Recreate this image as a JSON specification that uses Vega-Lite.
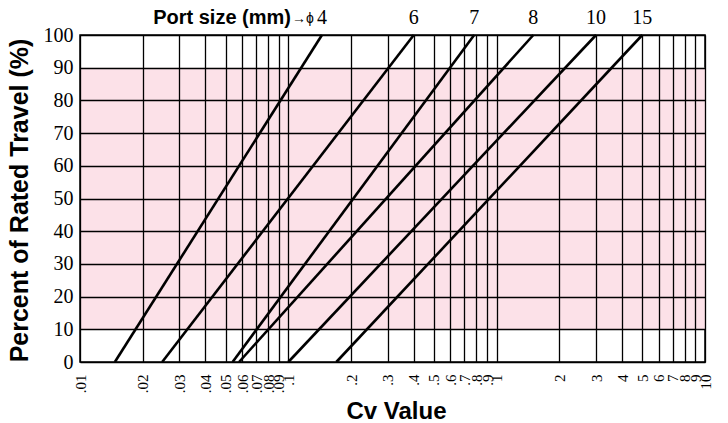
{
  "$schema": "https://vega.github.io/schema/vega-lite/v6.json",
  "width": 625,
  "height": 327,
  "autosize": {"type": "none"},
  "padding": {"left": 80, "top": 35, "right": 23, "bottom": 61},
  "background": "white",
  "config": {"view": {"stroke": "black", "strokeWidth": 1.5}, "font": "Liberation Sans"},
  "datasets": {
    "band": [{"cv": 0.01, "cv2": 10, "pct": 10, "pct2": 90}],
    "lines": [
      {"port": "4", "cv": 0.0147, "pct": 0},
      {"port": "4", "cv": 0.145, "pct": 100},
      {"port": "6", "cv": 0.0248, "pct": 0},
      {"port": "6", "cv": 0.4, "pct": 100},
      {"port": "7", "cv": 0.054, "pct": 0},
      {"port": "7", "cv": 0.78, "pct": 100},
      {"port": "8", "cv": 0.058, "pct": 0},
      {"port": "8", "cv": 1.5, "pct": 100},
      {"port": "10", "cv": 0.1, "pct": 0},
      {"port": "10", "cv": 3.0, "pct": 100},
      {"port": "15", "cv": 0.17, "pct": 0},
      {"port": "15", "cv": 5.0, "pct": 100}
    ],
    "labels": [
      {"port": "4", "cv": 0.145, "pct": 100},
      {"port": "6", "cv": 0.4, "pct": 100},
      {"port": "7", "cv": 0.78, "pct": 100},
      {"port": "8", "cv": 1.5, "pct": 100},
      {"port": "10", "cv": 3.0, "pct": 100},
      {"port": "15", "cv": 5.0, "pct": 100}
    ],
    "prefix": [{"cv": 0.145, "pct": 100, "t1": "Port size (mm)", "t2": "→ϕ"}]
  },
  "encoding": {
    "x": {
      "field": "cv", "type": "quantitative",
      "scale": {"type": "log", "domain": [0.01, 10], "nice": false},
      "axis": {
        "values": [0.01, 0.02, 0.03, 0.04, 0.05, 0.06, 0.07, 0.08, 0.09, 0.1, 0.2, 0.3, 0.4, 0.5, 0.6, 0.7, 0.8, 0.9, 1, 2, 3, 4, 5, 6, 7, 8, 9, 10],
        "labelExpr": "datum.value < 1 ? substring(toString(datum.value), 1) : toString(datum.value)",
        "labelAngle": -90, "labelAlign": "right", "labelBaseline": "middle", "labelPadding": 12,
        "ticks": false, "domain": false,
        "grid": true, "gridColor": "black", "gridOpacity": 1, "gridWidth": 1.3,
        "labelFont": "Liberation Sans Narrow", "labelFontSize": 15, "labelColor": "black",
        "labelOverlap": false, "labelFlush": false, "labelBound": false,
        "title": "Cv Value", "titleFont": "Liberation Sans", "titleFontWeight": "bold", "titleFontSize": 24, "titleColor": "black",
        "titleX": 316, "titleY": 56, "titleBaseline": "alphabetic", "titleAlign": "center",
        "zindex": 1
      }
    },
    "y": {
      "field": "pct", "type": "quantitative",
      "scale": {"domain": [0, 100], "nice": false},
      "axis": {
        "values": [0, 10, 20, 30, 40, 50, 60, 70, 80, 90, 100],
        "ticks": false, "domain": false, "labelPadding": 7,
        "grid": true, "gridColor": "black", "gridOpacity": 1, "gridWidth": 1.3,
        "labelFont": "Liberation Sans Narrow", "labelFontSize": 20, "labelColor": "black",
        "labelOverlap": false, "labelFlush": false, "labelBound": false,
        "title": "Percent of Rated Travel (%)", "titleFont": "Liberation Sans", "titleFontWeight": "bold", "titleFontSize": 25, "titleColor": "black",
        "titleX": -61, "titleY": 165, "titleAngle": -90, "titleBaseline": "middle", "titleAlign": "center",
        "zindex": 1
      }
    }
  },
  "layer": [
    {
      "data": {"name": "band"},
      "mark": {"type": "rect", "color": "#fce1e8"},
      "encoding": {
        "x2": {"field": "cv2"},
        "y2": {"field": "pct2"}
      }
    },
    {
      "data": {"name": "lines"},
      "mark": {"type": "line", "color": "black", "strokeWidth": 2.6},
      "encoding": {
        "detail": {"field": "port"}
      }
    },
    {
      "data": {"name": "labels"},
      "mark": {"type": "text", "font": "Liberation Sans Narrow", "fontSize": 20, "color": "black", "dy": -17, "baseline": "middle", "align": "center"},
      "encoding": {
        "text": {"field": "port"}
      }
    },
    {
      "data": {"name": "prefix"},
      "mark": {"type": "text", "font": "Liberation Sans", "fontWeight": "bold", "fontSize": 20, "color": "black", "dy": -17, "dx": -31, "baseline": "middle", "align": "right"},
      "encoding": {
        "text": {"field": "t1"}
      }
    },
    {
      "data": {"name": "prefix"},
      "mark": {"type": "text", "font": "Liberation Sans", "fontSize": 14, "color": "black", "dy": -16, "dx": -8, "baseline": "middle", "align": "right"},
      "encoding": {
        "text": {"field": "t2"}
      }
    }
  ]
}
